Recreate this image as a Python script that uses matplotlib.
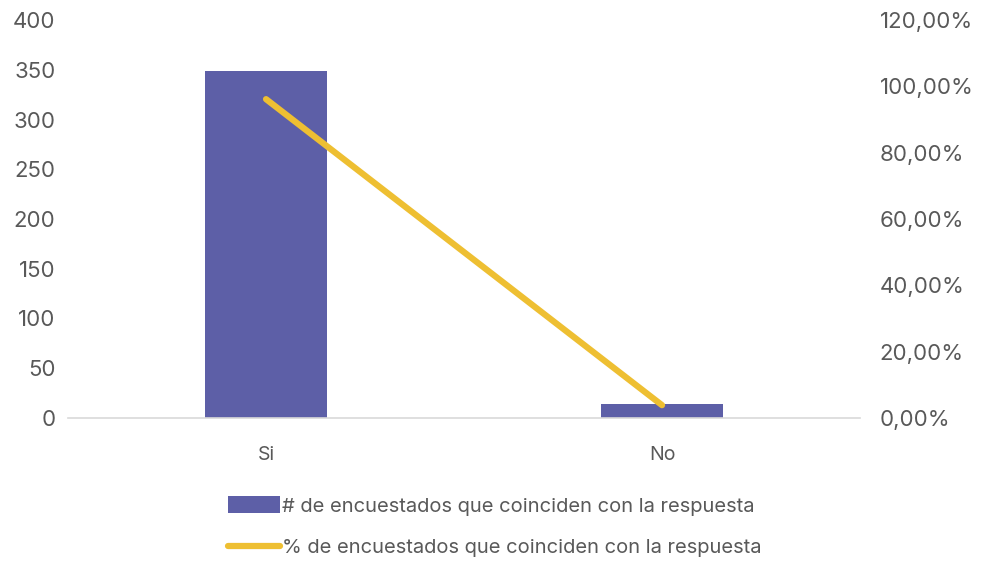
import matplotlib.pyplot as plt
from matplotlib.ticker import FuncFormatter

# data
categorias = ['Si', 'No']
encuestados = [349, 14]
porcentajes = [96.14, 3.86]

label_n = '# de encuestados que coinciden con la respuesta'
label_p = '% de encuestados que coinciden con la respuesta'

bar_color = '#5d5fa7'
line_color = '#eebf32'
text_color = '#595959'

plt.rcParams['font.family'] = ['Inter', 'DejaVu Sans']

fig = plt.figure(figsize=(9.89, 5.64), dpi=100)
ax = fig.add_axes([0.0688, 0.2589, 0.8008, 0.7056])
ax2 = ax.twinx()

x = list(range(len(categorias)))
bars = ax.bar(x, encuestados, width=0.31, color=bar_color, label=label_n, zorder=2)
line, = ax2.plot(x, porcentajes, color=line_color, lw=4.5, solid_capstyle='round',
                 label=label_p, zorder=3)

ax.set_xlim(-0.5, 1.5)
ax.set_ylim(0, 400)
ax.set_yticks(range(0, 401, 50))
ax2.set_ylim(0, 120)
ax2.set_yticks(range(0, 121, 20))
ax2.yaxis.set_major_formatter(FuncFormatter(lambda v, p: f'{v:.2f}%'.replace('.', ',')))

ax.set_xticks(x)
ax.set_xticklabels(categorias)

for a in (ax, ax2):
    for s in a.spines.values():
        s.set_visible(False)
    a.tick_params(length=0, colors=text_color, labelsize=16)
ax.spines['bottom'].set_visible(True)
ax.spines['bottom'].set_color('#d9d9d9')
ax.spines['bottom'].set_linewidth(1.2)
ax.tick_params(axis='y', pad=9)
ax.tick_params(axis='x', pad=20, labelsize=14)
ax2.tick_params(axis='y', pad=14)

# line drawn over the bars
ax.set_zorder(1)
ax2.set_zorder(2)
ax.patch.set_visible(False)

leg = fig.legend([bars, line], [label_n, label_p], loc='center',
                 bbox_to_anchor=(0.5, 0.066), ncol=1, frameon=False,
                 fontsize=14.5, handlelength=2.6, handleheight=0.9,
                 handletextpad=0.1, labelspacing=1.1, labelcolor=text_color)

fig.savefig('out.png', dpi=100, facecolor='white')
